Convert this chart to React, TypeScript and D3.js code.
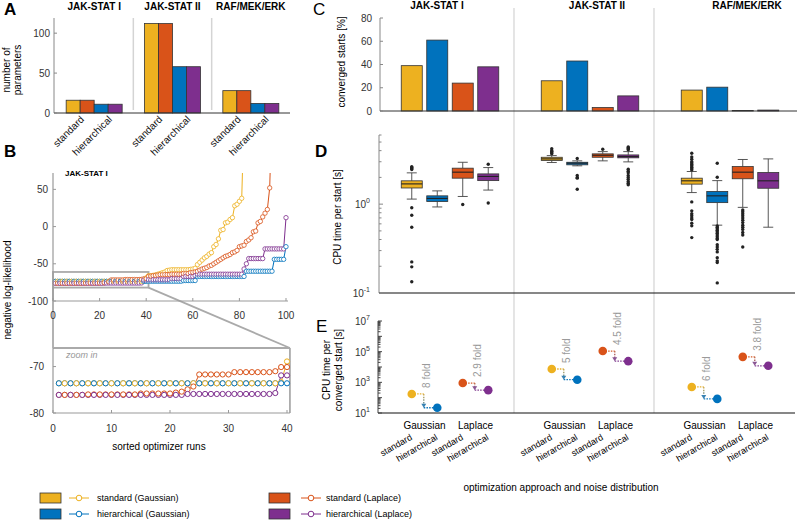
import React from "react";
import * as d3 from "d3";

const FONT = "'Liberation Sans', Arial, Helvetica, sans-serif";

// ---------- shared categories ----------
const models = ["JAK-STAT I", "JAK-STAT II", "RAF/MEK/ERK"];
const seriesKeys = ["stdGauss", "hierGauss", "stdLaplace", "hierLaplace"];
const seriesLabels = ["standard (Gaussian)", "hierarchical (Gaussian)", "standard (Laplace)", "hierarchical (Laplace)"];
const seriesColors = ["#EDB120", "#0072BD", "#D95319", "#7E2F8E"];
const approachLabels = ["standard", "hierarchical"];
const noiseLabels = ["Gaussian", "Laplace"];

// ---------- A: number of parameters ----------
const paramsStandard = [16, 112, 28];
const paramsHierarchical = [11, 58, 12];
const paramTicks = [0, 50, 100];

// ---------- B: sorted negative log-likelihood (runs 1..n) ----------
const runsStdGauss = [
  -73.6, -73.6, -73.6, -73.6, -73.6, -73.6, -73.6, -73.6, -73.6, -73.6,
  -73.6, -73.6, -73.6, -73.6, -73.6, -73.6, -73.6, -73.6, -73.6, -73.6,
  -73.6, -73.6, -73.6, -73.6, -73.6, -73.6, -73.6, -73.6, -73.6, -73.6,
  -73.6, -73.6, -73.6, -73.6, -73.6, -73.6, -73.6, -73.6, -73.4, -68.9,
  -66, -66, -65.5, -65, -64, -63, -62, -61, -59, -58.5,
  -58, -58, -58, -58, -58, -58, -58, -58, -57.5, -57,
  -56, -51, -48, -45, -42, -40, -37, -35, -27, -24,
  -16.5, -5, -4, 5, 6, 9.5, 12, 28, 30, 34,
  38, 150,
];
const runsHierGauss = [
  -73.6, -73.6, -73.6, -73.6, -73.6, -73.6, -73.6, -73.6, -73.6, -73.6,
  -73.6, -73.6, -73.6, -73.6, -73.6, -73.6, -73.6, -73.6, -73.6, -73.6,
  -73.6, -73.6, -73.6, -73.6, -73.6, -73.6, -73.6, -73.6, -73.6, -73.6,
  -73.6, -73.6, -73.6, -73.6, -73.6, -73.6, -73.6, -73.6, -73.6, -73.6,
  -73.4, -73.4, -73.4, -73.4, -73.4, -73.4, -73.4, -73.4, -73.4, -73.4,
  -73.4, -73.4, -73.4, -73.4, -73.4, -72.5, -72.5, -72.5, -72.5, -72.5,
  -72.5, -67, -67, -67, -67, -67, -67, -67, -67, -67,
  -67, -67, -67, -67, -67, -67, -67, -67, -67, -67,
  -67, -67, -60, -60, -60, -60, -60, -60, -60, -60,
  -60, -60, -60, -60, -44, -44, -44, -44, -44, -27,
];
const runsStdLaplace = [
  -76.1, -76.1, -76.1, -76.1, -76.1, -76.0, -76.0, -76.0, -76.0, -76.0,
  -76.0, -76.0, -76.0, -76.0, -75.8, -75.8, -75.8, -75.8, -75.8, -75.8,
  -75.6, -75.4, -74.9, -74.3, -71.7, -71.7, -71.7, -71.7, -71.7, -71.7,
  -71.2, -71.2, -71.2, -71.2, -71.2, -71.2, -71.2, -71.0, -70.1, -70.1,
  -67, -66.5, -66, -65.5, -65, -64.5, -64.5, -64.5, -64.5, -64.5,
  -64, -64, -64, -64, -64, -63, -63, -63, -62, -61.5,
  -61, -60, -58.5, -57, -56, -55, -53, -52, -50, -48,
  -46, -44, -42, -40, -39, -37.5, -35, -34, -32, -27,
  -26, -25, -20, -18, -15, -7, -6, 5, 7, 13,
  18, 23, 52, 160,
];
const runsHierLaplace = [
  -76.1, -76.1, -76.1, -76.1, -76.1, -76.1, -76.1, -76.1, -76.1, -76.1,
  -76.1, -76.1, -76.1, -76.1, -76.1, -76.1, -76.1, -76.1, -76.1, -76.1,
  -76.1, -76.1, -75.9, -75.9, -75.9, -75.9, -75.9, -75.9, -75.9, -75.9,
  -75.9, -75.9, -75.9, -75.9, -75.9, -75.9, -75.9, -75.7, -71.9, -71.9,
  -71.5, -71.5, -71.5, -71.5, -71.5, -71.5, -71.5, -71.5, -71.5, -71.5,
  -70, -70, -70, -70, -70, -67, -67, -67, -67, -67,
  -66, -64, -64, -64, -64, -64, -64, -64, -64, -64,
  -64, -64, -64, -64, -64, -64, -64, -64, -64, -64,
  -64, -57, -50, -43, -43, -43, -43, -43, -43, -43,
  -30, -30, -30, -30, -30, -30, -30, -30, -30, 12,
];
const likelihoodTicks = [-100, -50, 0, 50];
const runTicks = [0, 20, 40, 60, 80, 100];
const zoomLikelihoodTicks = [-80, -70];
const zoomRunTicks = [0, 10, 20, 30, 40];
const zoomBoxRuns = [0, 41];
const zoomBoxValues = [-82, -61];

// ---------- C: converged starts [%] (per model) ----------
const convStdGauss = [39, 26, 18];
const convHierGauss = [61, 43, 20.5];
const convStdLaplace = [24, 3, 0.5];
const convHierLaplace = [38, 13, 0.8];
const convTicks = [0, 20, 40, 60, 80];

// ---------- D: CPU time per start [s] (box statistics per model) ----------
type BoxStat = { lo: number; q1: number; med: number; q3: number; hi: number; out: number[] };
const cpuStdGauss: BoxStat[] = [
  { lo: 1.14, q1: 1.52, med: 1.69, q3: 1.83, hi: 2.25, out: [2.45, 2.52, 2.58, 2.64, 0.91, 0.75, 0.55, 0.224, 0.197, 0.134] },
  { lo: 2.94, q1: 3.1, med: 3.23, q3: 3.37, hi: 3.52, out: [3.7, 3.8, 3.9, 4.0, 4.2] },
  { lo: 1.35, q1: 1.68, med: 1.83, q3: 1.96, hi: 2.33, out: [3.74, 3.4, 3.2, 3.0, 2.9, 2.8, 2.7, 2.6, 2.5, 2.43, 1.06, 0.84, 0.78, 0.74, 0.7, 0.67, 0.61, 0.57, 0.42] },
];
const cpuHierGauss: BoxStat[] = [
  { lo: 0.93, q1: 1.07, med: 1.16, q3: 1.24, hi: 1.41, out: [] },
  { lo: 2.7, q1: 2.77, med: 2.89, q3: 2.96, hi: 3.07, out: [3.26, 2.1, 2.0, 1.96, 1.47] },
  { lo: 0.58, q1: 1.04, med: 1.24, q3: 1.39, hi: 1.84, out: [2.88, 2.01, 0.57, 0.55, 0.53, 0.51, 0.49, 0.47, 0.45, 0.43, 0.41, 0.4, 0.35, 0.33, 0.31, 0.29, 0.25, 0.23, 0.22, 0.13] },
];
const cpuStdLaplace: BoxStat[] = [
  { lo: 1.22, q1: 1.96, med: 2.29, q3: 2.54, hi: 2.96, out: [0.99] },
  { lo: 3.07, q1: 3.37, med: 3.55, q3: 3.68, hi: 3.9, out: [4.15] },
  { lo: 0.92, q1: 1.93, med: 2.29, q3: 2.65, hi: 3.18, out: [0.86, 0.82, 0.78, 0.74, 0.7, 0.66, 0.62, 0.58, 0.55, 0.52, 0.48, 0.45, 0.33] },
];
const cpuHierLaplace: BoxStat[] = [
  { lo: 1.44, q1: 1.84, med: 2.05, q3: 2.19, hi: 2.58, out: [2.81, 1.03] },
  { lo: 2.99, q1: 3.32, med: 3.43, q3: 3.58, hi: 3.9, out: [4.1, 4.2, 4.3, 4.4, 2.47, 2.35, 2.25, 2.1, 2.0, 1.9, 1.8, 1.72, 1.65] },
  { lo: 0.55, q1: 1.51, med: 1.83, q3: 2.27, hi: 3.23, out: [] },
];

// ---------- E: CPU time per converged start [s] ----------
const convCpuStdGauss = [175, 7400, 500];
const convCpuHierGauss = [22, 1480, 83];
const convCpuStdLaplace = [900, 110000, 46000];
const convCpuHierLaplace = [310, 24000, 12000];
const foldGauss = ["8 fold", "5 fold", "6 fold"];
const foldLaplace = ["2.9 fold", "4.5 fold", "3.8 fold"];

const colorOf = (k: string) => seriesColors[seriesKeys.indexOf(k)];
const isHier = (k: string) => k.startsWith("hier");

function Pow({ x, y, exp }: { x: number; y: number; exp: number }) {
  return (
    <text x={x} y={y} textAnchor="end" fontSize={10} fill="#333">
      10<tspan dy={-5} fontSize={7}>{exp}</tspan>
    </text>
  );
}

export default function App() {
  // ===== Panel A =====
  const xA = d3.scaleBand<string>().domain(models).range([55, 290]);
  const aOrder = ["stdGauss", "stdLaplace", "hierGauss", "hierLaplace"];
  const xAIn = d3.scaleBand<string>().domain(aOrder).range([-28, 28]);
  const yA = d3.scaleLinear().domain([0, 119]).range([113, 18]);
  const aCenter = (m: string) => xA(m)! + xA.bandwidth() / 2;

  // ===== Panel B =====
  const xB = d3.scaleLinear().domain([0, 100]).range([53, 286]);
  const yB = d3.scaleLinear().domain([-100, 72]).range([301, 173]);
  const xZ = d3.scaleLinear().domain([0, 40]).range([53, 287]);
  const yZ = d3.scaleLinear().domain([-80, -66]).range([413, 348]);
  const runsAll = [runsStdGauss, runsHierGauss, runsStdLaplace, runsHierLaplace];
  const lineB = d3.line<number>().x((_, i) => xB(i + 1)).y((d) => yB(d));
  const lineZ = d3.line<number>().x((_, i) => xZ(i + 1)).y((d) => yZ(d));
  const maxRun = d3.max(runsAll, (r) => r.length)!;
  const markerOrder = (run: number) => (run % 2 === 1 ? [0, 2, 1, 3] : [1, 3, 0, 2]);
  const markersTop: { run: number; v: number; s: number }[] = [];
  const markersZoom: { run: number; v: number; s: number }[] = [];
  for (let run = 1; run <= maxRun; run++) {
    for (const s of markerOrder(run)) {
      const v = runsAll[s][run - 1];
      if (v === undefined) continue;
      markersTop.push({ run, v, s });
      if (run <= 40) markersZoom.push({ run, v, s });
    }
  }

  // ===== Panels C/D/E =====
  const xG = d3.scaleBand<string>().domain(models).range([380, 800]);
  const xIn = d3.scaleBand<string>().domain(seriesKeys).range([-48.75, 48.75]).paddingInner(0.176);
  const cx = (mi: number, k: string) => xG(models[mi])! + xG.bandwidth() / 2 + xIn(k)! + xIn.bandwidth() / 2;
  const bw = xIn.bandwidth();
  const yC = d3.scaleLinear().domain([0, 80]).range([111, 18]);
  const yD = d3.scaleLog().domain([0.1, 6]).range([293, 135]);
  const yE = d3.scaleLog().domain([10, 1e7]).range([413, 321]);
  const convAll = [convStdGauss, convHierGauss, convStdLaplace, convHierLaplace];
  const cpuAll = [cpuStdGauss, cpuHierGauss, cpuStdLaplace, cpuHierLaplace];
  const convCpuAll = [convCpuStdGauss, convCpuHierGauss, convCpuStdLaplace, convCpuHierLaplace];
  const sepX = models.slice(1).map((m) => xG(m)! - 6);

  const grayish = (c: string, t = 0.35) => d3.interpolateRgb(c, "#a0a0a0")(t);

  const tickTxt = { fontSize: 10, fill: "#333" };

  return (
    <svg width={799} height={520} style={{ position: "absolute", left: 0, top: 0, background: "#fff" }} fontFamily={FONT}>
      <defs>
        <clipPath id="clipTop"><rect x={50} y={yB(72)} width={240} height={yB(-100) - yB(72)} /></clipPath>
        <clipPath id="clipZoom"><rect x={50} y={yZ(-66)} width={242} height={yZ(-80) - yZ(-66) + 2} /></clipPath>
        {models.map((m, mi) =>
          [["stdGauss", "hierGauss", convCpuStdGauss[mi], convCpuHierGauss[mi]], ["stdLaplace", "hierLaplace", convCpuStdLaplace[mi], convCpuHierLaplace[mi]]].map(
            ([a, b, va, vb], j) => (
              <linearGradient key={`g${mi}${j}`} id={`grad${mi}${j}`} gradientUnits="userSpaceOnUse" x1={0} x2={0} y1={yE(va as number)} y2={yE(vb as number)}>
                <stop offset="0%" stopColor={grayish(colorOf(a as string))} />
                <stop offset="100%" stopColor={grayish(colorOf(b as string))} />
              </linearGradient>
            )
          )
        )}
      </defs>

      {/* panel letters */}
      <text x={4} y={15} fontSize={17} fontWeight="bold">A</text>
      <text x={4} y={157} fontSize={17} fontWeight="bold">B</text>
      <text x={313} y={15} fontSize={17}>C</text>
      <text x={315} y={157} fontSize={17} fontWeight="bold">D</text>
      <text x={316} y={332} fontSize={17}>E</text>

      {/* ================= Panel A ================= */}
      {models.map((m) => (
        <text key={m} x={aCenter(m)} y={10} textAnchor="middle" fontSize={10} fontWeight="bold">{m}</text>
      ))}
      {models.slice(1).map((m) => (
        <line key={m} x1={xA(m)} x2={xA(m)} y1={18} y2={110} stroke="#d4d4d4" strokeWidth={1.5} />
      ))}
      {models.map((m, mi) =>
        aOrder.map((k) => {
          const v = isHier(k) ? paramsHierarchical[mi] : paramsStandard[mi];
          return (
            <rect key={m + k} x={aCenter(m) + xAIn(k)!} y={yA(v)} width={xAIn.bandwidth()} height={yA(0) - yA(v)}
              fill={colorOf(k)} stroke="#333" strokeWidth={0.8} />
          );
        })
      )}
      <line x1={54} x2={54} y1={18} y2={113} stroke="#888" />
      <line x1={54} x2={290} y1={113} y2={113} stroke="#333" />
      {paramTicks.map((t) => (
        <g key={t}>
          <line x1={54} x2={57} y1={yA(t)} y2={yA(t)} stroke="#888" />
          <text x={50} y={yA(t) + 3.5} textAnchor="end" {...tickTxt}>{t}</text>
        </g>
      ))}
      <text transform="translate(10,70) rotate(-90)" textAnchor="middle" fontSize={10}>number of</text>
      <text transform="translate(21,70) rotate(-90)" textAnchor="middle" fontSize={10}>parameters</text>
      {models.map((m) =>
        approachLabels.map((a, j) => {
          const x = aCenter(m) - 14 + 28 * j + 4.5;
          return (
            <text key={m + a} transform={`translate(${x},${120}) rotate(-45)`} textAnchor="end" fontSize={10} fill="#111">{a}</text>
          );
        })
      )}

      {/* ================= Panel B ================= */}
      <text x={65} y={176} fontSize={8} fontWeight="bold">JAK-STAT I</text>
      <text transform="translate(11,290) rotate(-90)" textAnchor="middle" fontSize={10}>negative log-likelihood</text>
      {/* zoom box connector */}
      <rect x={xB(zoomBoxRuns[0])} y={yB(zoomBoxValues[1])} width={xB(zoomBoxRuns[1]) - xB(zoomBoxRuns[0])} height={yB(zoomBoxValues[0]) - yB(zoomBoxValues[1])}
        fill="none" stroke="#aaa" strokeWidth={1.8} />
      <line x1={xB(zoomBoxRuns[1])} y1={yB(zoomBoxValues[0])} x2={xZ(40.5)} y2={yZ(-66)} stroke="#aaa" strokeWidth={1.8} />
      <line x1={xB(0)} y1={yB(zoomBoxValues[0])} x2={xZ(0)} y2={yZ(-66)} stroke="#aaa" strokeWidth={1.8} />
      {/* top plot */}
      <g clipPath="url(#clipTop)">
        {runsAll.map((r, s) => (
          <path key={s} d={lineB(r)!} fill="none" stroke={seriesColors[s]} strokeWidth={1} />
        ))}
        {markersTop.map((p, i) => (
          <circle key={i} cx={xB(p.run)} cy={yB(p.v)} r={2.2} fill="#fff" stroke={seriesColors[p.s]} strokeWidth={0.8} />
        ))}
      </g>
      <line x1={53} x2={53} y1={yB(72)} y2={yB(-100)} stroke="#999" strokeWidth={1.2} />
      <line x1={53} x2={288} y1={yB(-100)} y2={yB(-100)} stroke="#999" strokeWidth={1.2} />
      {likelihoodTicks.map((t) => (
        <g key={t}>
          <line x1={53} x2={56} y1={yB(t)} y2={yB(t)} stroke="#999" />
          <text x={48} y={yB(t) + 3.5} textAnchor="end" {...tickTxt}>{t}</text>
        </g>
      ))}
      {runTicks.map((t) => (
        <g key={t}>
          <line x1={xB(t)} x2={xB(t)} y1={yB(-100)} y2={yB(-100) - 3} stroke="#999" />
          <text x={xB(t)} y={319} textAnchor="middle" {...tickTxt}>{t}</text>
        </g>
      ))}
      {/* zoom plot */}
      <line x1={53} x2={xZ(40.5)} y1={yZ(-66)} y2={yZ(-66)} stroke="#aaa" strokeWidth={1.8} />
      <line x1={xZ(40.5)} x2={xZ(40.5)} y1={yZ(-66)} y2={yZ(-80)} stroke="#aaa" strokeWidth={1.8} />
      <text x={66} y={358} fontSize={9} fontStyle="italic" fill="#999">zoom in</text>
      <g clipPath="url(#clipZoom)">
        {runsAll.map((r, s) => (
          <path key={s} d={lineZ(r.slice(0, 40))!} fill="none" stroke={seriesColors[s]} strokeWidth={1} />
        ))}
        {markersZoom.map((p, i) => (
          <circle key={i} cx={xZ(p.run)} cy={yZ(p.v)} r={2.6} fill="#fff" stroke={seriesColors[p.s]} strokeWidth={1} />
        ))}
      </g>
      <line x1={53} x2={53} y1={yZ(-66)} y2={yZ(-80)} stroke="#999" strokeWidth={1.2} />
      <line x1={53} x2={xZ(40.5)} y1={yZ(-80)} y2={yZ(-80)} stroke="#999" strokeWidth={1.2} />
      {zoomLikelihoodTicks.map((t) => (
        <g key={t}>
          <line x1={53} x2={56} y1={yZ(t)} y2={yZ(t)} stroke="#999" />
          <text x={44} y={yZ(t) + 3.5} textAnchor="end" {...tickTxt}>{t}</text>
        </g>
      ))}
      {zoomRunTicks.map((t) => (
        <g key={t}>
          <line x1={xZ(t)} x2={xZ(t)} y1={yZ(-80)} y2={yZ(-80) - 3} stroke="#999" />
          <text x={xZ(t)} y={432} textAnchor="middle" {...tickTxt}>{t}</text>
        </g>
      ))}
      <text x={159} y={450} textAnchor="middle" fontSize={10}>sorted optimizer runs</text>

      {/* ================= Panels C/D/E shared ================= */}
      {sepX.map((x, i) => (
        <line key={i} x1={x} x2={x} y1={8} y2={413} stroke="#e2e2e2" strokeWidth={1.8} />
      ))}
      {models.map((m, mi) => (
        <text key={m} x={[437, 597, 747][mi]} y={9} textAnchor="middle" fontSize={10} fontWeight="bold">{m}</text>
      ))}

      {/* C */}
      {models.map((m, mi) =>
        seriesKeys.map((k, s) => {
          const v = convAll[s][mi];
          return (
            <rect key={m + k} x={cx(mi, k) - bw / 2} y={yC(v)} width={bw} height={Math.max(yC(0) - yC(v), 0.5)}
              fill={seriesColors[s]} stroke="#333" strokeWidth={0.8} />
          );
        })
      )}
      <line x1={380} x2={380} y1={18} y2={111} stroke="#888" />
      <line x1={380} x2={797} y1={111} y2={111} stroke="#333" />
      {convTicks.map((t) => (
        <g key={t}>
          <line x1={380} x2={383} y1={yC(t)} y2={yC(t)} stroke="#888" />
          <text x={372} y={yC(t) + 3.5} textAnchor="end" {...tickTxt}>{t}</text>
        </g>
      ))}
      <text transform="translate(345,62) rotate(-90)" textAnchor="middle" fontSize={10}>converged starts [%]</text>

      {/* D */}
      {models.map((m, mi) =>
        seriesKeys.map((k, s) => {
          const b = cpuAll[s][mi];
          const x = cx(mi, k);
          return (
            <g key={m + k}>
              <line x1={x} x2={x} y1={yD(b.hi)} y2={yD(b.q3)} stroke="#444" strokeWidth={0.9} />
              <line x1={x} x2={x} y1={yD(b.q1)} y2={yD(b.lo)} stroke="#444" strokeWidth={0.9} />
              <line x1={x - 5} x2={x + 5} y1={yD(b.hi)} y2={yD(b.hi)} stroke="#444" strokeWidth={0.9} />
              <line x1={x - 5} x2={x + 5} y1={yD(b.lo)} y2={yD(b.lo)} stroke="#444" strokeWidth={0.9} />
              <rect x={x - bw / 2} y={yD(b.q3)} width={bw} height={yD(b.q1) - yD(b.q3)} fill={seriesColors[s]} stroke="#333" strokeWidth={0.8} />
              <line x1={x - bw / 2} x2={x + bw / 2} y1={yD(b.med)} y2={yD(b.med)} stroke="#222" strokeWidth={1.1} />
              {b.out.map((o, i) => (
                <circle key={i} cx={x} cy={yD(o)} r={1.7} fill="#222" />
              ))}
            </g>
          );
        })
      )}
      <line x1={379} x2={379} y1={135} y2={293} stroke="#888" />
      <line x1={379} x2={795} y1={293} y2={293} stroke="#111" strokeWidth={1.2} />
      {yD.ticks().map((t, i) => {
        const major = Math.abs(Math.log10(t) - Math.round(Math.log10(t))) < 1e-9;
        return <line key={i} x1={379} x2={379 + (major ? 4 : 2.5)} y1={yD(t)} y2={yD(t)} stroke="#888" />;
      })}
      <Pow x={370} y={yD(1) + 4} exp={0} />
      <Pow x={370} y={yD(0.1) + 4} exp={-1} />
      <text transform="translate(341,217) rotate(-90)" textAnchor="middle" fontSize={10}>CPU time per start [s]</text>

      {/* E */}
      {models.map((m, mi) =>
        [["stdGauss", "hierGauss", foldGauss[mi]], ["stdLaplace", "hierLaplace", foldLaplace[mi]]].map(([a, b, label], j) => {
          const sa = seriesKeys.indexOf(a), sb = seriesKeys.indexOf(b);
          const xa = cx(mi, a), xb = cx(mi, b);
          const ya = yE(convCpuAll[sa][mi]), yb = yE(convCpuAll[sb][mi]);
          const ax = xa + 12;
          return (
            <g key={m + a}>
              <line x1={xa} x2={ax} y1={ya} y2={ya} stroke={grayish(seriesColors[sa], 0.1)} strokeWidth={1.3} strokeDasharray="1.5 1.2" />
              <line x1={ax} x2={xb} y1={yb} y2={yb} stroke={grayish(seriesColors[sb], 0.1)} strokeWidth={1.3} strokeDasharray="1.5 1.2" />
              <line x1={ax} x2={ax} y1={ya} y2={yb - 3} stroke={`url(#grad${mi}${j})`} strokeWidth={1.4} strokeDasharray="1.5 1.2" />
              <path d={`M${ax - 2.5},${yb - 4}L${ax + 2.5},${yb - 4}L${ax},${yb}Z`} fill={grayish(seriesColors[sb])} />
              <circle cx={xa} cy={ya} r={4.3} fill={seriesColors[sa]} />
              <circle cx={xb} cy={yb} r={4.3} fill={seriesColors[sb]} />
              <text transform={`translate(${ax + 6},${ya - 6}) rotate(-90)`} fontSize={10} fill="#9a9a9a">{label}</text>
            </g>
          );
        })
      )}
      <line x1={378} x2={378} y1={321} y2={413} stroke="#444" />
      <line x1={378} x2={795} y1={413} y2={413} stroke="#111" strokeWidth={1.2} />
      {yE.ticks().map((t, i) => {
        const major = Math.abs(Math.log10(t) - Math.round(Math.log10(t))) < 1e-9;
        return <line key={i} x1={378} x2={378 + (major ? 4 : 2.5)} y1={yE(t)} y2={yE(t)} stroke="#444" />;
      })}
      {[1, 3, 5, 7].map((e) => (
        <Pow key={e} x={370} y={yE(Math.pow(10, e)) + 4} exp={e} />
      ))}
      <text transform="translate(330,370) rotate(-90)" textAnchor="middle" fontSize={10}>CPU time per</text>
      <text transform="translate(342,370) rotate(-90)" textAnchor="middle" fontSize={10}>converged start [s]</text>
      {models.map((m, mi) =>
        noiseLabels.map((n, j) => {
          const a = seriesKeys[2 * j], b = seriesKeys[2 * j + 1];
          return (
            <text key={m + n} x={(cx(mi, a) + cx(mi, b)) / 2} y={429} textAnchor="middle" fontSize={10}>{n}</text>
          );
        })
      )}
      {models.map((m, mi) =>
        seriesKeys.map((k) => (
          <text key={m + k} transform={`translate(${cx(mi, k) + 1},${439}) rotate(-30)`} textAnchor="end" fontSize={9}>
            {isHier(k) ? approachLabels[1] : approachLabels[0]}
          </text>
        ))
      )}
      <text x={561} y={491} textAnchor="middle" fontSize={10}>optimization approach and noise distribution</text>

      {/* Legend */}
      {seriesKeys.map((k, s) => {
        const col = s < 2 ? 0 : 1;
        const row = s % 2;
        const bx = col === 0 ? 40 : 269;
        const lx = col === 0 ? 69 : 301;
        const tx = col === 0 ? 97 : 326;
        const y = 498 + row * 16;
        return (
          <g key={k}>
            <rect x={bx} y={y - 5} width={21} height={10} fill={seriesColors[s]} stroke="#333" strokeWidth={0.8} />
            <line x1={lx} x2={lx + 20} y1={y} y2={y} stroke={seriesColors[s]} strokeWidth={1} />
            <circle cx={lx + 10} cy={y} r={2.8} fill="#fff" stroke={seriesColors[s]} strokeWidth={1} />
            <text x={tx} y={y + 3.2} fontSize={9}>{seriesLabels[s]}</text>
          </g>
        );
      })}
    </svg>
  );
}
